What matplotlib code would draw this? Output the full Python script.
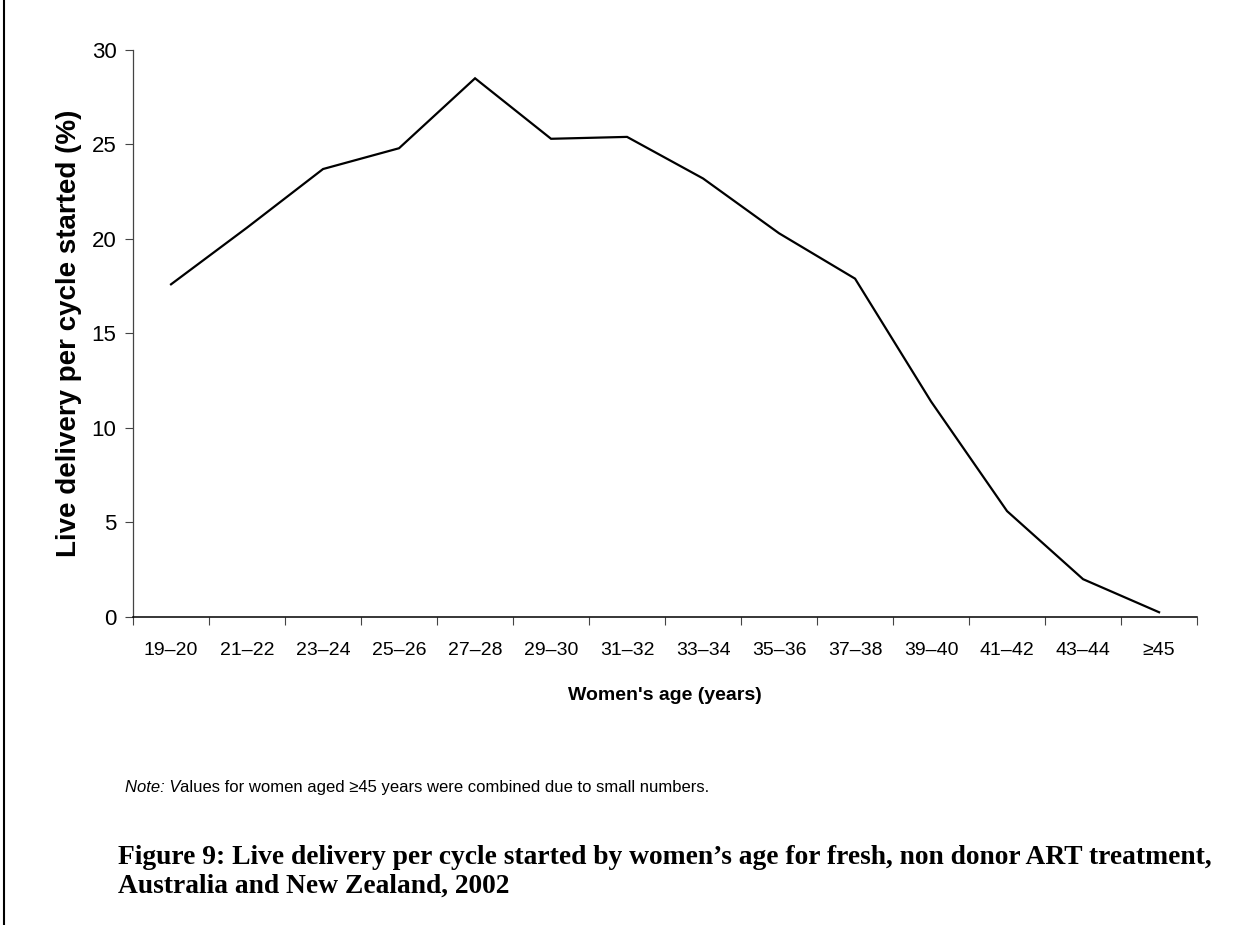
import matplotlib.pyplot as plt
from matplotlib.lines import Line2D
from matplotlib.text import Annotation

# data
age_groups = ['19–20', '21–22', '23–24', '25–26', '27–28', '29–30', '31–32',
              '33–34', '35–36', '37–38', '39–40', '41–42', '43–44', '≥45']
live_delivery = [17.6, 20.6, 23.7, 24.8, 28.5, 25.3, 25.4,
                 23.2, 20.3, 17.9, 11.4, 5.6, 2.0, 0.25]
y_ticks = [0, 5, 10, 15, 20, 25, 30]

plt.rcParams['font.family'] = ['Liberation Sans', 'DejaVu Sans']

fig = plt.figure(figsize=(12.41, 9.25), dpi=100)
ax = fig.add_axes([0.1072, 0.333, 0.8574, 0.613])

x = list(range(len(age_groups)))
ax.plot(x, live_delivery, color='black', linewidth=1.6, solid_joinstyle='miter')

ax.set_xlim(-0.5, len(age_groups) - 0.5)
ax.set_ylim(0, 30)

# category labels centred, tick marks on the boundaries
ax.set_xticks(x)
ax.set_xticklabels(age_groups, fontsize=14)
ax.tick_params(axis='x', which='major', length=0, pad=18)
ax.set_xticks([i - 0.5 for i in range(len(age_groups) + 1)], minor=True)
ax.tick_params(axis='x', which='minor', length=6, width=0.8, color='#444444')

ax.set_yticks(y_ticks)
ax.set_yticklabels([str(v) for v in y_ticks], fontsize=16)
ax.tick_params(axis='y', length=6, width=0.8, color='#444444', pad=6)

for side in ['top', 'right']:
    ax.spines[side].set_visible(False)
ax.spines['left'].set_color('#444444')
ax.spines['bottom'].set_color('black')
ax.spines['left'].set_linewidth(0.9)
ax.spines['bottom'].set_linewidth(1.1)

ax.set_xlabel("Women's age (years)", fontsize=14, fontweight='bold', labelpad=20)
ax.set_ylabel('Live delivery per cycle started (%)', fontsize=20, fontweight='bold', labelpad=7)

# note (italic "Note: V" followed by the rest in regular)
note_a = fig.text(0.1007, 0.141, 'Note: V', fontsize=12, style='italic', va='bottom')
note_b = Annotation('alues for women aged ≥45 years were combined due to small numbers.',
                    xy=(1, 0), xycoords=note_a, fontsize=12, va='bottom', ha='left')
fig.add_artist(note_b)

# caption
fig.text(0.095, 0.0725, 'Figure 9: Live delivery per cycle started by women\u2019s age for fresh, non donor ART treatment,',
         fontsize=19.8, fontweight='bold', family='Liberation Serif', va='center')
fig.text(0.095, 0.042, 'Australia and New Zealand, 2002',
         fontsize=19.8, fontweight='bold', family='Liberation Serif', va='center')

# left page border
fig.add_artist(Line2D([0.003, 0.003], [0, 1], color='black', linewidth=1.5,
                      transform=fig.transFigure))

fig.savefig('out.png', dpi=100, facecolor='white')
